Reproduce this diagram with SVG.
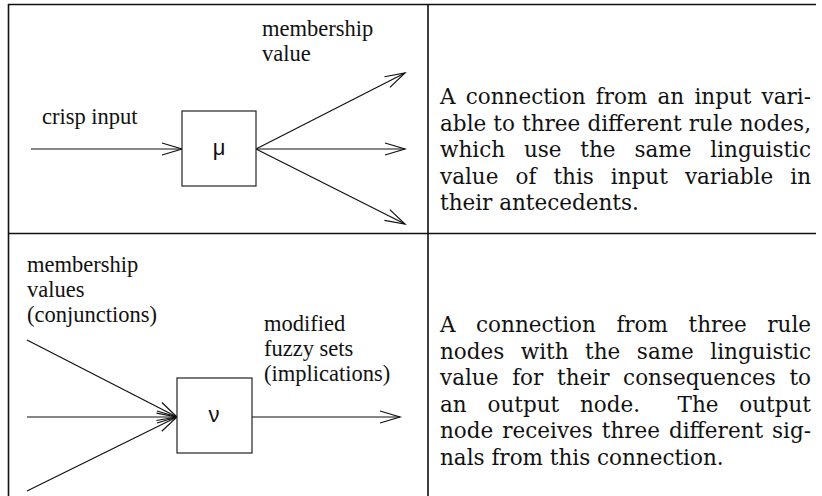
<svg xmlns="http://www.w3.org/2000/svg" width="822" height="496" viewBox="0 0 822 496">
<style>
.rule{stroke:#111;stroke-width:1.6;fill:none}
.box{fill:#fff;stroke:#222;stroke-width:1.2}
.conn{stroke:#111;stroke-width:1.2;fill:none;marker-end:url(#open)}
.lab{font-family:"Liberation Serif","Times New Roman",serif;font-size:22.5px;fill:#111}
.sym{font-family:"Liberation Sans",Arial,sans-serif;font-size:22px;fill:#111;text-anchor:middle}
.para{font-family:"DejaVu Serif","Liberation Serif",serif;font-size:21.5px;fill:#111}
</style>
<defs>
<marker id="open" markerUnits="userSpaceOnUse" markerWidth="24" markerHeight="16" viewBox="-22 -8 24 16" refX="0" refY="0" orient="auto" overflow="visible">
<path d="M-20,-6 L0,0 L-20,6" fill="none" stroke="#111" stroke-width="1.2"/>
</marker>
</defs>

<g id="table">
<line class="rule" x1="8.5" y1="4" x2="8.5" y2="496"/>
<line class="rule" x1="428" y1="4" x2="428" y2="496"/>
<line class="rule" x1="8" y1="4.5" x2="816" y2="4.5"/>
<line class="rule" x1="8" y1="233.5" x2="816" y2="233.5"/>
</g>

<g id="connectors">
<line class="conn" x1="31" y1="149" x2="182" y2="149"/>
<line class="conn" x1="256" y1="149" x2="405" y2="73"/>
<line class="conn" x1="256" y1="149" x2="405" y2="149"/>
<line class="conn" x1="256" y1="149" x2="405" y2="224"/>
<line class="conn" x1="27" y1="340" x2="177" y2="417"/>
<line class="conn" x1="27" y1="417" x2="177" y2="417"/>
<line class="conn" x1="27" y1="491" x2="177" y2="417"/>
<line class="conn" x1="252" y1="417" x2="400" y2="417"/>
</g>

<g id="node-mu">
<rect class="box" x="182" y="111" width="74" height="75"/>
<text class="sym" x="219" y="155">μ</text>
</g>

<g id="node-nu">
<rect class="box" x="177" y="378" width="75" height="75"/>
<text class="sym" x="214" y="422">ν</text>
</g>

<g id="labels-top">
<text class="lab" x="262" y="36">membership</text>
<text class="lab" x="262" y="61">value</text>
<text class="lab" x="42" y="124">crisp input</text>
</g>

<g id="labels-bottom">
<text class="lab" x="27" y="272">membership</text>
<text class="lab" x="27" y="297">values</text>
<text class="lab" x="27" y="322">(conjunctions)</text>
<text class="lab" x="264" y="331">modified</text>
<text class="lab" x="264" y="356">fuzzy sets</text>
<text class="lab" x="264" y="381">(implications)</text>
</g>

<g id="desc-top">
<text class="para" x="440" y="104" word-spacing="3.4" textLength="371" lengthAdjust="spacing">A connection from an input vari-</text>
<text class="para" x="440" y="130.5" word-spacing="0.2" textLength="371" lengthAdjust="spacing">able to three different rule nodes,</text>
<text class="para" x="440" y="157" word-spacing="12" textLength="371" lengthAdjust="spacing">which use the same linguistic</text>
<text class="para" x="440" y="183.5" word-spacing="10.2" textLength="371" lengthAdjust="spacing">value of this input variable in</text>
<text class="para" x="440" y="210">their antecedents.</text>
</g>

<g id="desc-bottom">
<text class="para" x="440" y="332" word-spacing="13.7" textLength="371" lengthAdjust="spacing">A connection from three rule</text>
<text class="para" x="440" y="358.5" word-spacing="9.7" textLength="371" lengthAdjust="spacing">nodes with the same linguistic</text>
<text class="para" x="440" y="385" word-spacing="6.9" textLength="371" lengthAdjust="spacing">value for their consequences to</text>
<text class="para" x="440" y="411.5" word-spacing="14">an output node.</text>
<text class="para" x="811" y="411.5" word-spacing="14" text-anchor="end">The output</text>
<text class="para" x="440" y="438" word-spacing="2" textLength="371" lengthAdjust="spacing">node receives three different sig-</text>
<text class="para" x="440" y="464.5">nals from this connection.</text>
</g>
</svg>
